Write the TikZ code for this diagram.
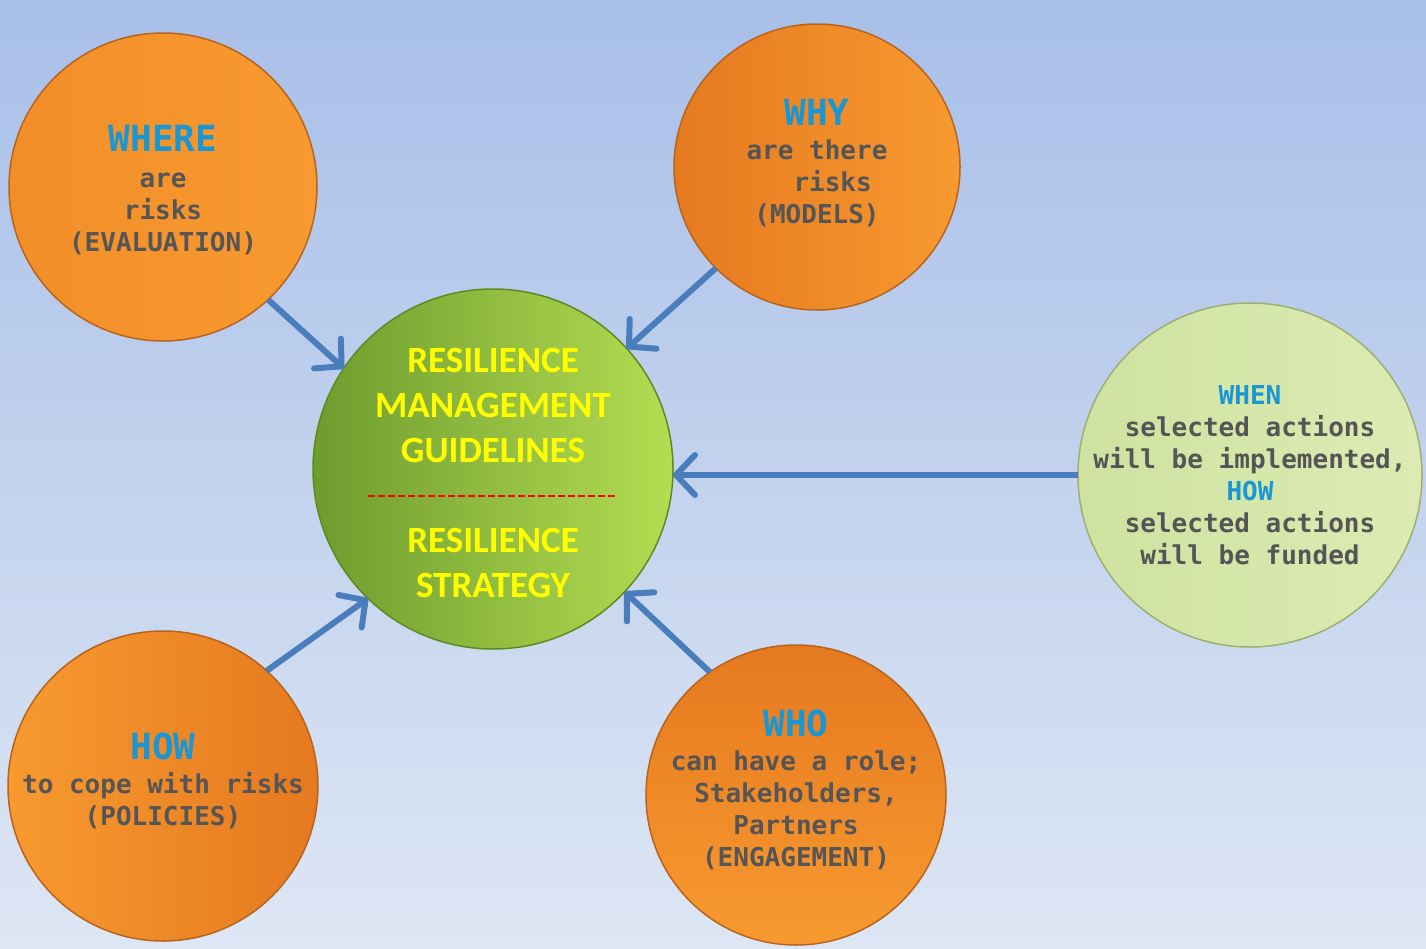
\documentclass[tikz,border=0pt]{standalone}
\usepackage{fontspec}
\newfontfamily\monofam{DejaVu Sans Mono}
\newfontfamily\calfam{Carlito}
\usetikzlibrary{arrows.meta}
\definecolor{bgtop}{HTML}{A8BFE8}
\definecolor{bgbot}{HTML}{DDE6F4}
\definecolor{orA}{HTML}{E5791F}
\definecolor{orB}{HTML}{F89A30}
\definecolor{orC}{HTML}{F28E28}
\definecolor{orRim}{HTML}{B8641E}
\definecolor{grA}{HTML}{6E9C2E}
\definecolor{grB}{HTML}{B4DD52}
\definecolor{grRim}{HTML}{5E8A24}
\definecolor{lgA}{HTML}{CFE2A0}
\definecolor{lgB}{HTML}{DCEBB4}
\definecolor{lgRim}{HTML}{9DB070}
\definecolor{headblue}{HTML}{1A96D2}
\definecolor{bodygray}{HTML}{555555}
\definecolor{arrowblue}{HTML}{4A7DBB}
\definecolor{ylw}{HTML}{FFFF00}
\tikzset{
  ball/.style={circle, outer sep=0pt, inner sep=0pt, line width=1.5pt},
  orangeball/.style={ball, draw=orRim, left color=orA, right color=orB},
  txt/.style={align=center, text=bodygray, font=\monofam\bfseries\fontsize{26}{32}\selectfont},
  conn/.style={draw=arrowblue, line width=6pt, -{Straight Barb[length=19pt, width=40pt, line cap=round, line join=round]}}
}
\begin{document}
\begin{tikzpicture}[x=1pt, y=-1pt]
\useasboundingbox (0,0) rectangle (1426,948);
\shade[top color=bgtop, bottom color=bgbot] (0,0) rectangle (1426,948);

% circles
\node[orangeball, minimum size=308pt, shading angle=120, left color=orC, right color=orB] (where) at (163,187) {};
\node[orangeball, minimum size=286pt] (why) at (817,167) {};
\node[ball, draw=grRim, left color=grA, right color=grB, minimum size=360pt] (center) at (493,469) {};
\node[ball, draw=lgRim, left color=lgA, right color=lgB, minimum size=344pt] (when) at (1250,475) {};
\node[orangeball, minimum size=310pt, left color=orB, right color=orA] (how) at (163,786) {};
\node[orangeball, minimum size=300pt, shading angle=0, top color=orA, bottom color=orB] (who) at (796,795) {};

% texts
\node[txt] (wheretxt) at (163,190) {{\fontsize{36}{40}\selectfont\color{headblue}WHERE}\\[4pt]are\\risks\\(EVALUATION)};
\node[txt] (whytxt) at (817,163) {{\fontsize{36}{40}\selectfont\color{headblue}WHY}\\[2pt]are there\\\ \ risks\\(MODELS)};
\node[txt] (whentxt) at (1250,475) {{\color{headblue}WHEN}\\selected actions\\will be implemented,\\{\color{headblue}HOW}\\selected actions\\will be funded};
\node[txt] (howtxt) at (163,781) {{\fontsize{36}{40}\selectfont\color{headblue}HOW}\\[2pt]to cope with risks\\(POLICIES)};
\node[txt] (whotxt) at (796,790) {{\fontsize{36}{40}\selectfont\color{headblue}WHO}\\[2pt]can have a role;\\Stakeholders,\\Partners\\(ENGAGEMENT)};
\node[align=center, text=ylw, font=\calfam\bfseries\fontsize{37}{45}\selectfont] (centertxt) at (493,473)
  {RESILIENCE\\MANAGEMENT\\GUIDELINES\\\mbox{}\\RESILIENCE\\STRATEGY};
\draw[red, line width=2pt, dash pattern=on 7pt off 3pt] (368,496) -- (617,496);

% connectors
\draw[conn] (where.-47) -- (center.146);
\draw[conn] (why.-135) -- (center.42);
\draw[conn] (when.west) -- (when.west -| center.east);
\draw[conn] (how.48) -- (center.-134);
\draw[conn] (who.125) -- (center.-43);
\end{tikzpicture}
\end{document}
